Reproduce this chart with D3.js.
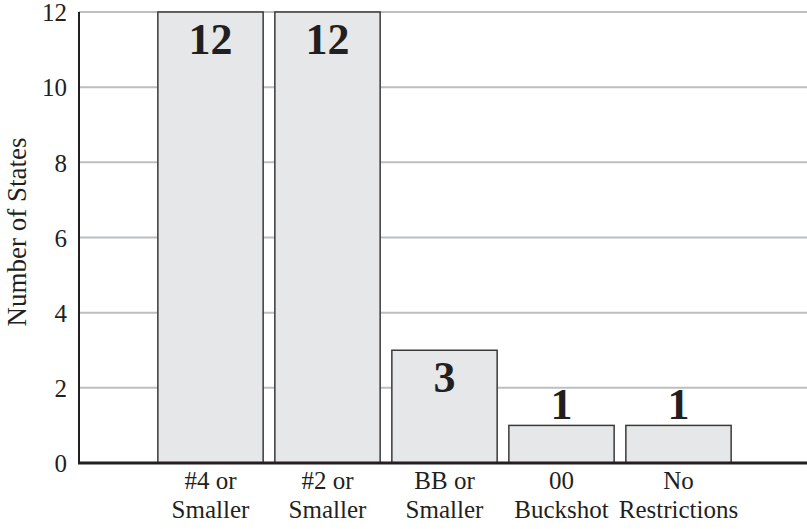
<!DOCTYPE html>
<html><head><meta charset="utf-8">
<script src="https://cdn.jsdelivr.net/npm/d3@7"></script>
<style>body{margin:0;background:#fff}svg{display:block}
svg text{font-family:"Liberation Serif","Times New Roman",Tinos,serif}</style>
</head><body>
<svg id="c" width="807" height="529"></svg>
<script>
const categories = [["#4 or","Smaller"],["#2 or","Smaller"],["BB or","Smaller"],["00","Buckshot"],["No","Restrictions"]];
const values = [12, 12, 3, 1, 1];
const yTicks = [0, 2, 4, 6, 8, 10, 12];
const yLabel = "Number of States";

const svg = d3.select("#c");
const x = d3.scaleBand().domain(d3.range(values.length)).range([152, 737]).paddingInner(0.1).paddingOuter(0.05);
const y = d3.scaleLinear().domain([0, 12]).range([463, 12]);
const axisX = 79, rightEdge = 807;

// gridlines
svg.append("g").selectAll("line").data(yTicks.filter(d => d > 0)).join("line")
  .attr("x1", axisX).attr("x2", rightEdge)
  .attr("y1", d => y(d)).attr("y2", d => y(d))
  .attr("stroke", "#bcbec0").attr("stroke-width", 2);

// y tick labels via axis
const yAxis = svg.append("g").attr("transform", `translate(${axisX},0)`)
  .call(d3.axisLeft(y).tickValues(yTicks).tickSize(0).tickPadding(12).tickFormat(d3.format("d")));
yAxis.select(".domain").remove();
yAxis.attr("font-family", null);
yAxis.selectAll("text").attr("font-size", 25).attr("fill", "#231f20").attr("dy", "0.35em");

// bars
svg.append("g").selectAll("rect").data(values).join("rect")
  .attr("x", (d, i) => x(i)).attr("width", x.bandwidth())
  .attr("y", d => y(d)).attr("height", d => y(0) - y(d))
  .attr("fill", "#e6e7e8").attr("stroke", "#3a3a3a").attr("stroke-width", 1.5);

// value labels
svg.append("g").selectAll("text").data(values).join("text")
  .attr("x", (d, i) => x(i) + x.bandwidth() / 2)
  .attr("y", d => (y(0) - y(d) > 60) ? y(d) + 42 : y(d) - 6)
  .attr("text-anchor", "middle").attr("font-weight", "bold")
  .attr("font-size", 44).attr("fill", "#231f20").text(d => d);

// axes lines
svg.append("line").attr("x1", axisX).attr("x2", axisX).attr("y1", y(12)).attr("y2", y(0) + 1)
  .attr("stroke", "#231f20").attr("stroke-width", 2);
svg.append("line").attr("x1", axisX - 1).attr("x2", rightEdge).attr("y1", y(0)).attr("y2", y(0))
  .attr("stroke", "#231f20").attr("stroke-width", 3);

// x labels
const xl = svg.append("g").selectAll("text").data(categories).join("text")
  .attr("x", (d, i) => x(i) + x.bandwidth() / 2)
  .attr("text-anchor", "middle").attr("font-size", 25).attr("fill", "#231f20");
xl.append("tspan").attr("x", (d, i) => x(i) + x.bandwidth() / 2).attr("y", 489).text(d => d[0]);
xl.append("tspan").attr("x", (d, i) => x(i) + x.bandwidth() / 2).attr("y", 518).text(d => d[1]);

// y label
svg.append("text").attr("transform", `translate(26,232) rotate(-90)`)
  .attr("text-anchor", "middle").attr("font-size", 27).attr("fill", "#231f20")
  .text(yLabel);
</script>
</body></html>
